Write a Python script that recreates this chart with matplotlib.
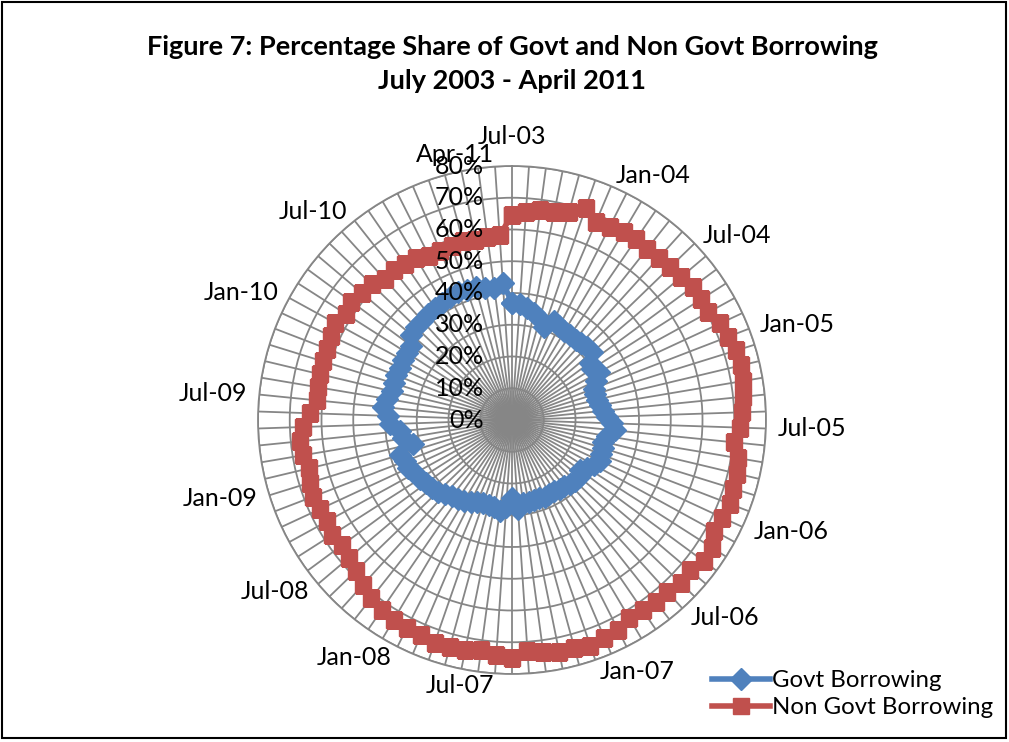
import matplotlib
matplotlib.use('Agg')
import matplotlib.pyplot as plt
from matplotlib.patches import Rectangle
import numpy as np

plt.rcParams['font.family'] = ['Lato', 'DejaVu Sans']

# monthly data, Jul-03 .. Apr-11 (94 months)
years = [2003] * 6 + [y for y in range(2004, 2011) for _ in range(12)] + [2011] * 4
month_names = ['Jan', 'Feb', 'Mar', 'Apr', 'May', 'Jun',
               'Jul', 'Aug', 'Sep', 'Oct', 'Nov', 'Dec']
months = list(range(6, 12)) + list(range(12)) * 7 + list(range(4))
categories = [f"{month_names[m]}-{str(y)[2:]}" for y, m in zip(years, months)]

govt = [37.0, 36.5, 35.5, 34.3, 33.0, 31.0, 34.0, 33.0, 32.4, 32.5,
        32.3, 32.6, 33.0, 33.1, 30.5, 30.0, 31.4, 29.0, 27.6, 27.5,
        27.5, 28.0, 28.8, 30.0, 31.5, 32.5, 30.5, 29.6, 30.0, 30.2,
        30.4, 29.5, 28.0, 26.6, 27.6, 27.6, 27.0, 26.5, 26.5, 26.0,
        26.0, 26.3, 26.0, 26.0, 26.5, 26.5, 28.0, 24.5, 27.5, 29.0,
        28.0, 27.7, 27.7, 28.0, 28.9, 29.5, 30.0, 30.6, 31.5, 32.5,
        33.2, 33.5, 34.3, 35.0, 36.2, 36.0, 36.9, 32.0, 34.7, 35.5,
        38.5, 39.0, 40.8, 39.9, 39.0, 38.9, 39.1, 39.0, 39.2, 39.3,
        39.5, 41.5, 42.0, 42.2, 42.5, 42.7, 43.0, 43.4, 43.8, 43.5,
        43.3, 42.5, 42.1, 43.3]

non_govt = [64.6, 65.6, 66.6, 66.8, 67.8, 70.6, 67.6, 68.1, 69.0, 69.0,
            68.6, 69.0, 69.4, 69.8, 70.7, 70.6, 70.5, 72.3, 73.0, 74.0,
            74.3, 73.8, 73.0, 72.4, 71.8, 70.2, 72.3, 72.8, 73.0, 73.5,
            73.0, 72.6, 74.9, 75.0, 73.3, 74.0, 72.9, 73.1, 72.7, 72.3,
            74.0, 74.6, 75.2, 74.5, 74.6, 73.7, 73.0, 75.0, 74.2, 73.2,
            73.8, 74.0, 74.2, 73.7, 73.5, 73.2, 72.6, 71.5, 70.0, 68.5,
            67.3, 66.6, 67.4, 66.3, 66.7, 67.3, 66.5, 65.8, 66.6, 67.0,
            66.0, 63.7, 61.7, 62.0, 62.1, 62.3, 62.6, 63.0, 63.4, 62.1,
            62.9, 61.9, 61.5, 59.8, 60.1, 59.6, 59.3, 57.9, 57.8, 58.0,
            58.3, 58.0, 58.0, 58.3]

# labelled months (Jan-11 is not labelled on the original)
shown_labels = ['Jul-03', 'Jan-04', 'Jul-04', 'Jan-05', 'Jul-05', 'Jan-06',
                'Jul-06', 'Jan-07', 'Jul-07', 'Jan-08', 'Jul-08', 'Jan-09',
                'Jul-09', 'Jan-10', 'Jul-10', 'Apr-11']

r_ticks = list(range(0, 81, 10))

n = len(categories)
theta = np.arange(n) * 2 * np.pi / n
grid_col = '#868686'

fig = plt.figure(figsize=(10.09, 7.42), dpi=100)
W, H = 1009, 742
cx, cy, R = 512, 420, 254
ax = fig.add_axes([(cx - R) / W, (H - cy - R) / H, 2 * R / W, 2 * R / H],
                  projection='polar')
ax.set_theta_zero_location('N')
ax.set_theta_direction(-1)
ax.set_ylim(0, 80)
ax.set_xticks(theta)
ax.set_xticklabels([])
ax.set_yticks(r_ticks)
ax.set_yticklabels([])
ax.grid(True, color=grid_col, lw=1.3)
ax.spines['polar'].set_color(grid_col)
ax.spines['polar'].set_linewidth(1.3)

tg = np.append(theta, theta[0])
ax.plot(tg, govt + govt[:1], color='#4F81BD', lw=4, marker='D', ms=11,
        label='Govt Borrowing', zorder=3)
ax.plot(tg, non_govt + non_govt[:1], color='#C0504D', lw=4, marker='s', ms=11,
        label='Non Govt Borrowing', zorder=3)

for i, lab in enumerate(categories):
    if lab not in shown_labels:
        continue
    r_lab = 80 * 266 / 254
    if i == 0:
        ha, va = 'center', 'bottom'
        r_lab = 80 * 272 / 254
    elif theta[i] < np.pi:
        ha, va = 'left', 'center'
    else:
        ha, va = 'right', 'center'
    ax.text(theta[i], r_lab, lab, ha=ha, va=va, fontsize=18, clip_on=False)

for r in r_ticks:
    ax.annotate(f"{r}%", xy=(0, r), xytext=(-28, 0), textcoords='offset pixels',
                ha='right', va='center', fontsize=18, annotation_clip=False)

fig.text(cx / W, 1 - 55 / H,
         'Figure 7: Percentage Share of Govt and Non Govt Borrowing',
         ha='center', va='baseline', fontsize=19.5, fontweight='bold')
fig.text(cx / W, 1 - 89 / H, 'July 2003 - April 2011',
         ha='center', va='baseline', fontsize=19.5, fontweight='bold')

fig.legend(loc='upper left', bbox_to_anchor=(712 / W, 1 - 670 / H),
           frameon=False, fontsize=17.3, handlelength=2.4, handletextpad=0.1,
           labelspacing=0.25, borderpad=0, borderaxespad=0)

fig.patches.append(Rectangle((0.002, 0.005), 0.995, 0.992, transform=fig.transFigure,
                             fill=False, edgecolor='black', lw=1.5))

fig.savefig('out.png', dpi=100)
